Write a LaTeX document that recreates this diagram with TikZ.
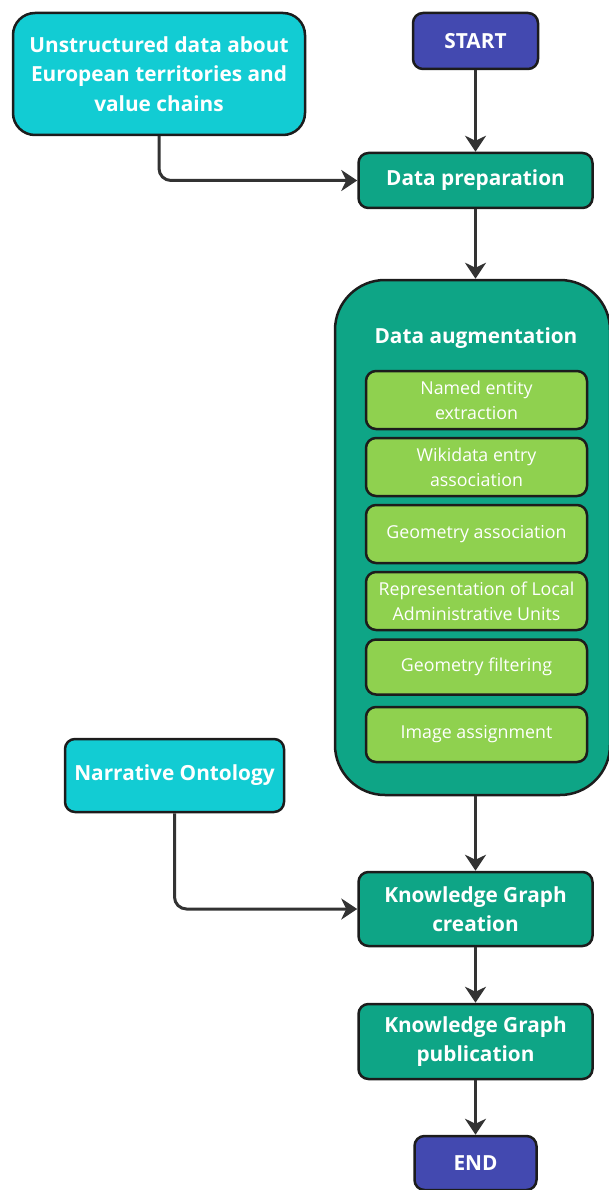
\documentclass[tikz,border=0pt]{standalone}
\usepackage{fontspec}
\setmainfont{Open Sans}
\usetikzlibrary{arrows.meta}
\definecolor{cyanbox}{HTML}{12CCD3}
\definecolor{tealbox}{HTML}{0EA586}
\definecolor{greenbox}{HTML}{8FD14F}
\definecolor{bluebox}{HTML}{4349B0}
\definecolor{edgec}{HTML}{1C1C1C}
\definecolor{arrowc}{HTML}{333333}
\begin{document}
\begin{tikzpicture}[x=1pt,y=-1pt,
  box/.style={draw=edgec,line width=2.5pt,rounded corners=10pt,text=white,align=center,inner sep=0pt},
  boldtxt/.style={font=\fontsize{20.8}{29.5}\selectfont\bfseries},
  regtxt/.style={font=\fontsize{17.8}{25}\selectfont},
  sub/.style={box,fill=greenbox,minimum width=221pt,regtxt},
  mainbox/.style={box,fill=tealbox,minimum width=234pt,boldtxt},
  termbox/.style={box,fill=bluebox,boldtxt},
  conn/.style={draw=arrowc,line width=3pt,-{Stealth[length=16pt,width=21pt,inset=5pt]},rounded corners=12pt}
]
\useasboundingbox (0,0) rectangle (609,1190);

\node[box,fill=cyanbox,minimum width=292pt,minimum height=122pt,rounded corners=22pt,boldtxt] (src) at (159,74) {Unstructured data about\\European territories and\\value chains};
\node[termbox,minimum width=125pt,minimum height=56pt] (start) at (475.5,41) {START};
\node[mainbox,minimum height=55pt] (prep) at (475.5,180.5) {Data preparation};

\node[box,fill=tealbox,minimum width=275pt,minimum height=515pt,rounded corners=50pt] (aug) at (472.5,537.5) {};
\node[text=white,boldtxt,inner sep=0pt] (augt) at (476,338) {Data augmentation};
\node[sub,minimum height=58pt] (s1) at (476.5,400) {Named entity\\extraction};
\node[sub,minimum height=58pt] (s2) at (476.5,467) {Wikidata entry\\association};
\node[sub,minimum height=58pt] (s3) at (476.5,534) {Geometry association};
\node[sub,minimum height=58pt] (s4) at (476.5,601) {Representation of Local\\Administrative Units};
\node[sub,minimum height=55pt] (s5) at (476.5,667) {Geometry filtering};
\node[sub,minimum height=55pt] (s6) at (476.5,734.5) {Image assignment};

\node[box,fill=cyanbox,minimum width=219pt,minimum height=73pt,boldtxt] (onto) at (174.5,775.5) {Narrative Ontology};
\node[mainbox,minimum height=74pt] (kgc) at (475.5,909) {Knowledge Graph\\creation};
\node[mainbox,minimum height=75pt] (kgp) at (475.5,1041.5) {Knowledge Graph\\publication};
\node[termbox,minimum width=122pt,minimum height=54pt] (end) at (475.5,1163) {END};

\draw[conn] (start.south) -- (start.south |- prep.north);
\draw[conn] (src.south) |- (prep.west);
\draw[conn] (prep.south) -- (prep.south |- aug.north);
\draw[conn] (kgc.north |- aug.south) -- (kgc.north);
\draw[conn] (onto.south) |- (kgc.west);
\draw[conn] (kgc.south) -- (kgp.north);
\draw[conn] (kgp.south) -- (end.north);
\end{tikzpicture}
\end{document}
